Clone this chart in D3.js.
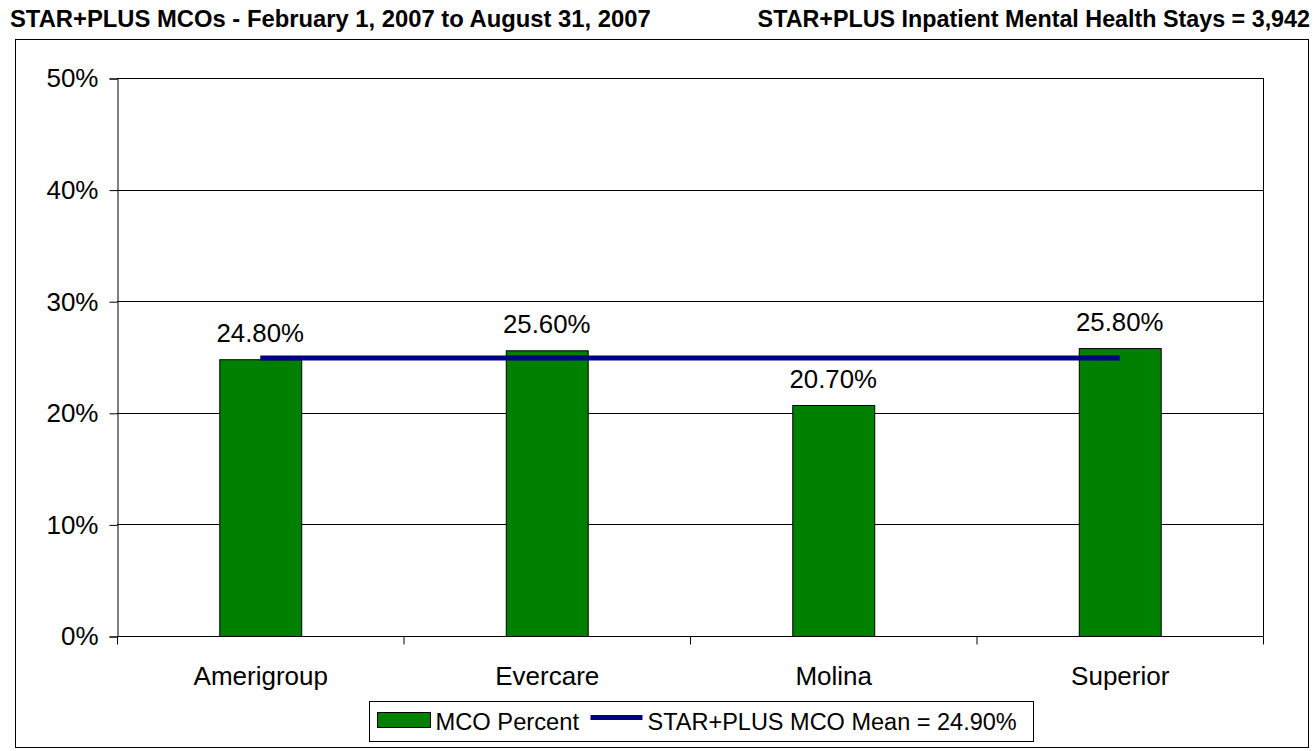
<!DOCTYPE html>
<html>
<head>
<meta charset="utf-8">
<script src="https://cdn.jsdelivr.net/npm/d3@7"></script>
<style>
  body { margin: 0; background: #fff; }
  svg { display: block; font-family: "Liberation Sans", Arial, sans-serif; }
</style>
</head>
<body>
<svg id="chart" width="1314" height="751"></svg>
<script>
const categories = ['Amerigroup', 'Evercare', 'Molina', 'Superior'];
const mcoPercent = [24.8, 25.6, 20.7, 25.8];
const meanValue = 24.9;
const yTicks = [0, 10, 20, 30, 40, 50];
const titleLeft = 'STAR+PLUS MCOs - February 1, 2007 to August 31, 2007';
const titleRight = 'STAR+PLUS Inpatient Mental Health Stays = 3,942';
const legendLabels = ['MCO Percent', 'STAR+PLUS MCO Mean = 24.90%'];

const svg = d3.select('#chart');
const plot = { left: 117, top: 78, right: 1263, bottom: 636 };

// titles
svg.append('text').attr('x', 10).attr('y', 27)
    .attr('font-size', 23.8).attr('font-weight', 'bold').text(titleLeft);
svg.append('text').attr('x', 1310).attr('y', 27).attr('text-anchor', 'end')
    .attr('font-size', 23.3).attr('font-weight', 'bold').text(titleRight);

// outer chart frame
svg.append('rect').attr('x', 15.5).attr('y', 39.5).attr('width', 1293).attr('height', 708)
    .attr('fill', 'none').attr('stroke', '#000').attr('stroke-width', 1);

const x = d3.scaleBand().domain(categories).range([plot.left, plot.right]);
const y = d3.scaleLinear().domain([0, 50]).range([plot.bottom, plot.top]);
const barW = x.bandwidth() * 0.286;

// gridlines
svg.append('g').selectAll('line').data(yTicks.slice(1)).enter().append('line')
    .attr('x1', plot.left).attr('x2', plot.right)
    .attr('y1', d => Math.round(y(d)) + 0.5).attr('y2', d => Math.round(y(d)) + 0.5)
    .attr('stroke', '#000').attr('stroke-width', 1);

// plot frame (right side)
svg.append('line').attr('x1', plot.right + 0.5).attr('x2', plot.right + 0.5)
    .attr('y1', plot.top).attr('y2', plot.bottom).attr('stroke', '#000');

// y axis
const yAxis = svg.append('g').attr('transform', `translate(${plot.left + 0.5},0.5)`)
    .call(d3.axisLeft(y).tickValues(yTicks).tickSize(8).tickPadding(11).tickFormat(d => d + '%'));
yAxis.selectAll('text').attr('font-size', 26).attr('fill', '#000')
    .attr('font-family', '"Liberation Sans", Arial, sans-serif');
yAxis.select('.domain').attr('stroke', '#000');
yAxis.selectAll('.tick line').attr('stroke', '#000');

// bars
svg.append('g').selectAll('rect').data(mcoPercent).enter().append('rect')
    .attr('x', (d, i) => x(categories[i]) + (x.bandwidth() - barW) / 2 + 0.5)
    .attr('y', d => y(d) + 0.5)
    .attr('width', barW)
    .attr('height', d => plot.bottom - y(d))
    .attr('fill', '#008000').attr('stroke', '#000').attr('stroke-width', 1);

// value labels
svg.append('g').selectAll('text').data(mcoPercent).enter().append('text')
    .attr('x', (d, i) => x(categories[i]) + x.bandwidth() / 2)
    .attr('y', d => y(d) - 17)
    .attr('text-anchor', 'middle').attr('font-size', 25.8)
    .text(d => d.toFixed(2) + '%');

// x axis
const xAxis = svg.append('g').attr('transform', `translate(0.5,${plot.bottom + 0.5})`);
xAxis.append('line').attr('x1', plot.left).attr('x2', plot.right).attr('stroke', '#000');
xAxis.selectAll('line.tk').data(d3.range(categories.length + 1)).enter().append('line')
    .attr('class', 'tk')
    .attr('x1', i => plot.left + i * x.step()).attr('x2', i => plot.left + i * x.step())
    .attr('y1', 0).attr('y2', 8).attr('stroke', '#000');
xAxis.selectAll('text').data(categories).enter().append('text')
    .attr('x', d => x(d) + x.bandwidth() / 2).attr('y', 48)
    .attr('text-anchor', 'middle').attr('font-size', 26).text(d => d);

// mean line
svg.append('line')
    .attr('x1', x(categories[0]) + x.bandwidth() / 2)
    .attr('x2', x(categories[categories.length - 1]) + x.bandwidth() / 2)
    .attr('y1', y(meanValue)).attr('y2', y(meanValue))
    .attr('stroke', '#000080').attr('stroke-width', 5);

// legend
const lg = svg.append('g').attr('transform', 'translate(369.5,701.5)');
lg.append('rect').attr('width', 664).attr('height', 40)
    .attr('fill', '#fff').attr('stroke', '#000');
lg.append('rect').attr('x', 8).attr('y', 11).attr('width', 53).attr('height', 15)
    .attr('fill', '#008000').attr('stroke', '#000');
lg.append('text').attr('x', 66).attr('y', 28).attr('font-size', 23.7).text(legendLabels[0]);
lg.append('line').attr('x1', 221).attr('x2', 273).attr('y1', 16).attr('y2', 16)
    .attr('stroke', '#000080').attr('stroke-width', 5);
lg.append('text').attr('x', 278).attr('y', 28).attr('font-size', 23.5).text(legendLabels[1]);
</script>
</body>
</html>
